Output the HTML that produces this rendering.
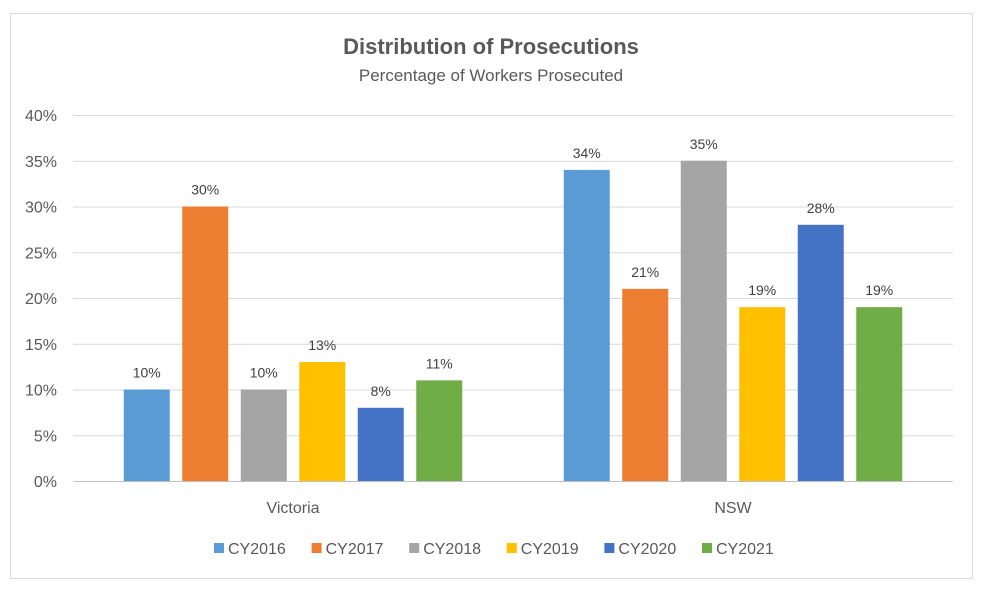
<!DOCTYPE html>
<html><head><meta charset="utf-8"><style>
body{margin:0;background:#fff;font-family:"Liberation Sans",sans-serif}
svg text{font-family:"Liberation Sans",sans-serif}
</style></head><body>
<svg width="986" height="597" xmlns="http://www.w3.org/2000/svg">
<rect x="10.5" y="13.5" width="962" height="565" fill="#fff" stroke="#d9d9d9"/>
<text x="491" y="54" text-anchor="middle" font-size="22" font-weight="bold" fill="#595959">Distribution of Prosecutions</text>
<text x="491" y="81" text-anchor="middle" font-size="17" fill="#595959">Percentage of Workers Prosecuted</text>
<g id="grid"></g><g id="bars"></g><g id="legend"></g>
</svg>
<script>
const categories=["Victoria","NSW"];
const seriesNames=["CY2016","CY2017","CY2018","CY2019","CY2020","CY2021"];
const colors=["#5b9bd5","#ed7d31","#a5a5a5","#ffc000","#4472c4","#70ad47"];
const victoria=[10,30,10,13,8,11];
const nsw=[34,21,35,19,28,19];
const yTicks=[0,5,10,15,20,25,30,35,40];
const values=[victoria,nsw];
const NS="http://www.w3.org/2000/svg";
const L=73,R=953,Y0=481,Y40=115;
const y=v=>Y0-(v/40)*(Y0-Y40);
const catW=(R-L)/categories.length;
const barW=46,step=58.5;
function mk(t,a,p){const e=document.createElementNS(NS,t);for(const k in a)e.setAttribute(k,a[k]);p.appendChild(e);return e;}
const grid=document.getElementById('grid');
yTicks.forEach(t=>{
  const l=mk('line',{x1:L,x2:R,y1:y(t)+0.5,y2:y(t)+0.5,stroke:t===0?'#bfbfbf':'#d9d9d9'},grid);
  
  
  const tx=mk('text',{x:57,y:y(t)+6,'text-anchor':'end','font-size':16,fill:'#595959'},grid);
  tx.textContent=t+'%';
  
  
});
const bars=document.getElementById('bars');
categories.forEach((c,ci)=>{
  const cx=L+catW*(ci+0.5);
  const ct=mk('text',{x:cx,y:513,'text-anchor':'middle','font-size':16,fill:'#595959'},bars);
  ct.textContent=c;
  
  
  values[ci].forEach((v,si)=>{
    const bx=cx-(seriesNames.length*step)/2+si*step+(step-barW)/2;
    const r=mk('rect',{x:bx,y:y(v),width:barW,height:Y0-y(v),fill:colors[si]},bars);
    
    
    const lt=mk('text',{x:bx+barW/2,y:y(v)-12,'text-anchor':'middle','font-size':14,fill:'#404040'},bars);
    lt.textContent=v+'%';
    
    
  });
});
const lg=document.getElementById('legend');
seriesNames.forEach((s,i)=>{
  const x=214+i*97.6;
  const g=mk('g',{},lg);
  
  
  mk('rect',{x:x,y:543,width:10,height:10,fill:colors[i]},g);
  const t=mk('text',{x:x+14,y:554,'font-size':16,fill:'#595959'},g);
  t.textContent=s;
});
</script>
</body></html>
